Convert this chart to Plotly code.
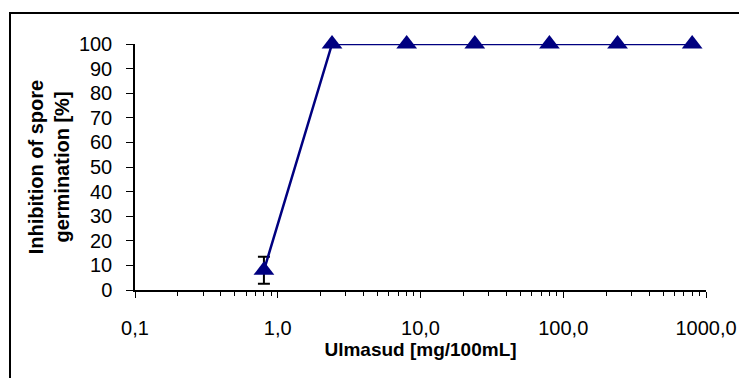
import plotly.graph_objects as go

# Data
concentration = [0.8, 2.4, 8, 24, 80, 240, 800]
inhibition = [8, 100, 100, 100, 100, 100, 100]
error = [5.5, 0, 0, 0, 0, 0, 0]

x_tickvals = [0.1, 1, 10, 100, 1000]
x_ticktext = ["0,1", "1,0", "10,0", "100,0", "1000,0"]
y_tickvals = list(range(0, 101, 10))

minor_vals = [k * 10 ** e for e in range(-1, 3) for k in range(2, 10)]

FONT = "Liberation Sans, Arial, sans-serif"

fig = go.Figure()
fig.add_trace(go.Scatter(
    x=concentration, y=inhibition,
    mode="lines+markers",
    line=dict(color="#000080", width=2.5),
    marker=dict(symbol="triangle-up", size=18, color="#000080"),
    error_y=dict(type="data", array=error, visible=True, color="black",
                 thickness=2, width=6),
    cliponaxis=False,
    showlegend=False,
))

# page body has an 8px offset; target plot area in screenshot pixels
OFF = 8
L, R, T, B = 135 - OFF, 706 - OFF, 44 - OFF, 290 - OFF
W, H = R - L, B - T
def px(x):
    return (x - OFF - L) / W
def py(y):
    return (B - (y - OFF)) / H
fig.add_shape(type="path", xref="paper", yref="paper",
              path=f"M {px(10)} {py(400)} L {px(10)} {py(13)} L {px(760)} {py(13)}",
              line=dict(color="black", width=2))

fig.update_layout(
    width=747, height=378,
    margin=dict(l=L, r=747 - R, t=T, b=378 - B),
    paper_bgcolor="white", plot_bgcolor="white",
    font=dict(family=FONT, size=20, color="black"),
)
fig.update_xaxes(
    type="log", range=[-1, 3],
    tickvals=x_tickvals, ticktext=x_ticktext,
    showgrid=False, zeroline=False,
    showline=True, linecolor="black", linewidth=1.5,
    ticks="outside", ticklen=6, tickcolor="black", tickwidth=1,
    ticklabelstandoff=13,
    tickfont=dict(size=20),
    minor=dict(tickvals=minor_vals, ticks="outside", ticklen=4,
               tickcolor="black", tickwidth=1, showgrid=False),
    title=dict(text="<b>Ulmasud [mg/100mL]</b>", font=dict(size=19), standoff=4),
)
fig.update_yaxes(
    range=[0, 100], tickvals=y_tickvals,
    showgrid=False, zeroline=False,
    showline=True, linecolor="black", linewidth=1.5,
    ticks="outside", ticklen=7, tickcolor="black", tickwidth=1,
    ticklabelstandoff=10,
    tickfont=dict(size=20),
    title=dict(text="<b>Inhibition of spore<br>germination [%]</b>",
               font=dict(size=20), standoff=4),
)

fig.write_html("out.html")
